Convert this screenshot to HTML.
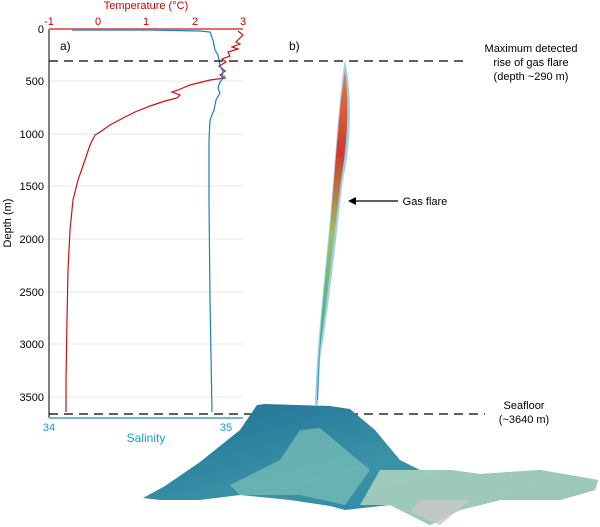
<!DOCTYPE html>
<html><head><style>body{margin:0;background:#fff}svg{display:block}text{font-family:"Liberation Sans",Arial,sans-serif}</style></head><body>
<svg width="600" height="527" viewBox="0 0 600 527">
<defs>
<linearGradient id="fl" x1="0" y1="0" x2="0" y2="1">
<stop offset="0" stop-color="#e08040"/><stop offset="0.25" stop-color="#d03a2a"/><stop offset="0.5" stop-color="#9cc060"/><stop offset="0.8" stop-color="#40b080"/><stop offset="1" stop-color="#3090c0"/></linearGradient>
<linearGradient id="sf" x1="0" y1="0" x2="1" y2="1"><stop offset="0" stop-color="#1f6f93"/><stop offset="0.5" stop-color="#3a93a8"/><stop offset="1" stop-color="#2a7ea0"/></linearGradient>
</defs>
<!-- grid -->
<g stroke="#e8e8e8" stroke-width="1">
<line x1="49" y1="81" x2="243" y2="81"/><line x1="49" y1="134" x2="243" y2="134"/><line x1="49" y1="186" x2="243" y2="186"/><line x1="49" y1="239" x2="243" y2="239"/><line x1="49" y1="292" x2="243" y2="292"/><line x1="49" y1="344" x2="243" y2="344"/><line x1="49" y1="397" x2="243" y2="397"/>
</g>
<line x1="49" y1="29" x2="49" y2="418" stroke="#000"/>
<line x1="49" y1="29" x2="243" y2="29" stroke="#e07070" stroke-width="2"/>
<line x1="49" y1="418" x2="243" y2="418" stroke="#7ab8c8" stroke-width="2"/>
<g font-size="11" text-anchor="end" fill="#000">
<text x="44" y="33">0</text><text x="44" y="85">500</text><text x="44" y="138">1000</text><text x="44" y="190">1500</text><text x="44" y="243">2000</text><text x="44" y="296">2500</text><text x="44" y="348">3000</text><text x="44" y="401">3500</text>
</g>
<text transform="translate(11,223) rotate(-90)" font-size="11" text-anchor="middle">Depth (m)</text>
<g font-size="11" fill="#d00000" text-anchor="middle">
<text x="49" y="25">-1</text><text x="98" y="25">0</text><text x="146" y="25">1</text><text x="195" y="25">2</text><text x="243" y="25">3</text>
<text x="146" y="9">Temperature (°C)</text></g>
<g font-size="11" fill="#1a9ad6" text-anchor="middle">
<text x="49" y="431">34</text><text x="226" y="431">35</text><text x="146" y="442" font-size="12">Salinity</text></g>
<!-- temperature -->
<polyline fill="none" stroke="#d01010" stroke-width="1.2" points="238,31 243,35 236,42 240,44 232,47 238,49 228,52 230,56 222,59 226,62 219,66 225,71 220,75 225,78 210,80 190,85 178,90 172,92 180,95 177,98 165,101 150,106 135,112 125,117 110,125 100,132 95,135 90,145 85,160 78,180 73,200 70,230 68,270 67,320 66,380 66,412"/>
<!-- salinity -->
<polyline fill="none" stroke="#1a80c0" stroke-width="1.2" points="72,30 150,30 200,31 210,32 213,40 215,50 218,55 220,65 223,72 222,78 225,76 220,82 218,88 220,93 216,100 214,110 210,120 209,140 209,200 210,300 212,412"/>
<text x="60" y="50" font-size="12">a)</text>
<text x="289" y="50" font-size="12">b)</text>
<!-- dashes -->
<line x1="49" y1="61" x2="465" y2="61" stroke="#000" stroke-dasharray="9,6" stroke-width="1.2"/>
<line x1="49" y1="414" x2="485" y2="414" stroke="#000" stroke-dasharray="9,6" stroke-width="1.2"/>
<g font-size="11" text-anchor="middle"><text x="531" y="52">Maximum detected</text><text x="531" y="66">rise of gas flare</text><text x="531" y="80">(depth ~290 m)</text>
<text x="524" y="409">Seafloor</text><text x="524" y="423">(~3640 m)</text>
<text x="425" y="205">Gas flare</text></g>
<line x1="398" y1="201" x2="352" y2="201" stroke="#000" stroke-width="1.2"/>
<polygon points="348,201 356,197 356,205" fill="#000"/>
<!-- seafloor -->
<polygon fill="url(#sf)" points="143,498 165,486 200,462 240,430 257,405 265,404 330,406 350,409 375,430 400,460 420,470 450,470 480,474 540,470 598,480 595,490 560,500 500,500 460,510 430,525 410,515 390,505 345,510 330,506 290,500 240,495 200,500 160,500"/>
<polygon fill="#7cc0b8" opacity="0.7" points="280,460 300,430 320,428 370,470 345,505 300,495 240,495 230,485"/>
<polygon fill="#b8d8c0" opacity="0.8" points="380,470 420,470 450,470 480,474 540,470 598,480 595,490 560,500 500,500 460,510 430,525 410,515 390,505 360,505"/>
<polygon fill="#c8c8c8" opacity="0.8" points="420,500 470,500 440,525 410,512"/>
<!-- flare -->
<path d="M345,60 C352,90 352,140 343,180 C338,220 330,300 320,360 L318,405 L315,405 C316,360 322,300 328,240 C333,190 336,140 340,100 C342,80 343,70 345,60 Z" fill="#7ab8e8" opacity="0.7"/>
<path d="M345,70 C349,100 348,140 341,180 C336,220 328,290 320,350 L318,400 L317,400 C318,350 324,290 330,230 C334,180 338,130 341,100 Z" fill="url(#fl)"/>
</svg>
</body></html>
